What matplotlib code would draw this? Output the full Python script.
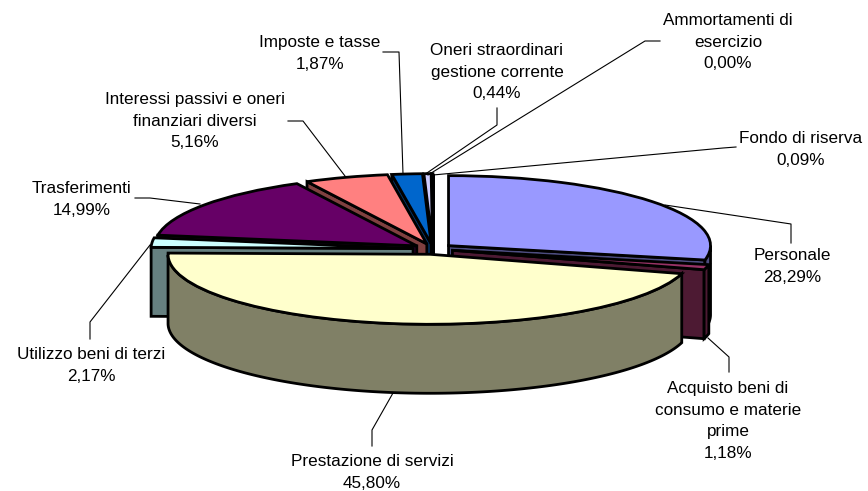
import numpy as np
import matplotlib
matplotlib.use("Agg")
import matplotlib.pyplot as plt
from matplotlib.patches import Polygon

plt.rcParams['font.family'] = ['Liberation Sans', 'DejaVu Sans']

names = ["Personale", "Acquisto beni di\nconsumo e materie\nprime", "Prestazione di servizi",
         "Utilizzo beni di terzi", "Trasferimenti", "Interessi passivi e oneri\nfinanziari diversi",
         "Imposte e tasse", "Oneri straordinari\ngestione corrente", "Ammortamenti di\nesercizio",
         "Fondo di riserva"]
values = [28.29, 1.18, 45.80, 2.17, 14.99, 5.16, 1.87, 0.44, 0.00, 0.09]
percent = ["28,29%", "1,18%", "45,80%", "2,17%", "14,99%", "5,16%", "1,87%", "0,44%", "0,00%", "0,09%"]
top_colors = ["#9999FF", "#993366", "#FFFFCC", "#CCFFFF", "#660066", "#FF8080", "#0066CC", "#CCCCFF", "#000080", "#FF00FF"]
side_colors = ["#4D4D80", "#4D1A33", "#808066", "#668080", "#330033", "#804040", "#003366", "#666680", "#000040", "#800080"]

# text centre x and top y, leader line, in pixels
label_pos = [(792, 248), (728, 381), (372, 454), (91, 347), (82, 181), (195, 92), (320, 35), (497, 43), (728, 13), (801, 131)]
leaders = [
    [(665, 205), (791, 224), (791, 243)],
    [(708, 338), (729, 357), (729, 372)],
    [(393, 393), (372, 430), (372, 446)],
    [(150, 245), (90, 322), (90, 339)],
    [(135, 198), (150, 198), (200, 204)],
    [(345, 176), (303, 121), (288, 121)],
    [(403, 174), (399, 52), (383, 52)],
    [(424, 175), (497, 125), (497, 108)],
    [(428, 175), (645, 41), (660, 41)],
    [(433, 175), (723, 148), (736, 147)],
]

cx, cy = 433, 249
rx, ry = 262, 70
depth = 69 / ry
lw = 2

fig = plt.figure(figsize=(8.68, 4.91), dpi=100)
ax = fig.add_axes([0, 0, 1, 1])
wedges, _ = ax.pie(values, explode=[20 / rx] * len(values), startangle=90, counterclock=False,
                   colors=top_colors, wedgeprops={"edgecolor": "black", "linewidth": lw})
ax.set_aspect("auto")
ax.set_xlim((0 - cx) / rx, (868 - cx) / rx)
ax.set_ylim((cy - 491) / ry, (cy - 0) / ry)
ax.set_frame_on(False)

# back slices first, the big front one last
order = [9, 8, 7, 6, 5, 4, 0, 3, 1, 2]
for z, i in enumerate(order):
    w = wedges[i]
    x0, y0 = w.center
    a1, a2 = w.theta1, w.theta2
    w.set_zorder(z * 3 + 2)
    # walls of the slice, only if they look to the viewer
    for a, normal in ((a2, a2 + 90), (a1, a1 - 90)):
        if np.sin(np.radians(normal)) < 0:
            t = np.radians(a)
            xe, ye = x0 + np.cos(t), y0 + np.sin(t)
            ax.add_patch(Polygon([(x0, y0), (xe, ye), (xe, ye - depth), (x0, y0 - depth)],
                                 fc=side_colors[i], ec="black", lw=lw, zorder=z * 3))
    # rim, lower half of the ellipse only
    ts = np.radians(np.linspace(a1, a2, 200))
    ts = ts[np.sin(ts) <= 0]
    if len(ts) > 1:
        xs = x0 + np.cos(ts)
        ys = y0 + np.sin(ts)
        pts = np.r_[np.c_[xs, ys], np.c_[xs, ys - depth][::-1]]
        ax.add_patch(Polygon(pts, fc=side_colors[i], ec="black", lw=lw, zorder=z * 3 + 1))

ov = fig.add_axes([0, 0, 1, 1])
ov.set_xlim(0, 868)
ov.set_ylim(491, 0)
ov.axis("off")
for i in range(len(names)):
    pts = np.array(leaders[i])
    ov.plot(pts[:, 0], pts[:, 1], color="black", lw=0.8)
    x, y = label_pos[i]
    ov.text(x, y, names[i] + "\n" + percent[i], ha="center", va="top",
            fontsize=12.3, linespacing=1.55, color="black")

fig.savefig("out.png", dpi=100)
